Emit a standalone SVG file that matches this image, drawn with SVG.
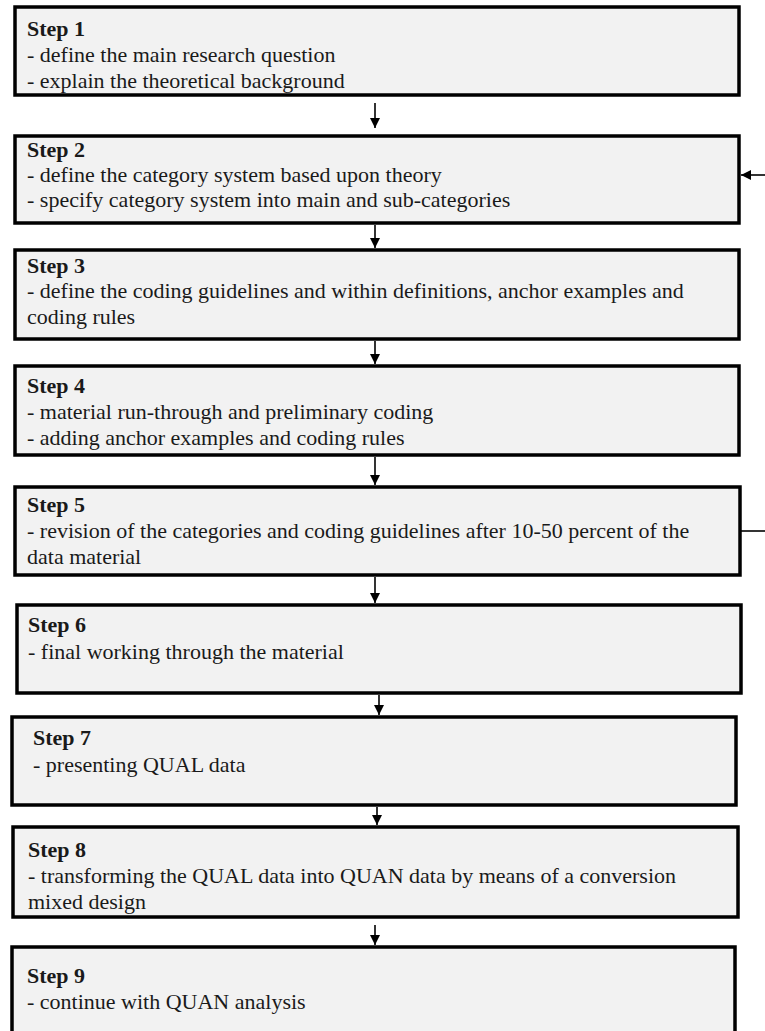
<svg xmlns="http://www.w3.org/2000/svg" width="765" height="1031" viewBox="0 0 765 1031">
  <style>
    .box { fill: #f2f2f2; stroke: #000; stroke-width: 3.5; }
    .t { font-family: "Liberation Serif", "Times New Roman", serif; font-size: 22px; fill: #1a1a1a; }
    .h { font-weight: bold; }
    .c { stroke: #000; stroke-width: 1.6; fill: none; }
  </style>
  <defs>
    <marker id="ah" viewBox="0 0 10 10" refX="10" refY="5" markerWidth="10" markerHeight="10" markerUnits="userSpaceOnUse" orient="auto">
      <path d="M0,0 L10,5 L0,10 z" fill="#000"/>
    </marker>
  </defs>
  <rect width="765" height="1031" fill="#fff"/>

  <g id="step1">
    <rect class="box" x="15" y="7" width="724" height="88"/>
    <text class="t h" x="27" y="36">Step 1</text>
    <text class="t" x="27" y="62">- define the main research question</text>
    <text class="t" x="27" y="88">- explain the theoretical background</text>
  </g>
  <g id="step2">
    <rect class="box" x="15" y="136" width="724" height="87"/>
    <text class="t h" x="27" y="157">Step 2</text>
    <text class="t" x="27" y="182">- define the category system based upon theory</text>
    <text class="t" x="27" y="207">- specify category system into main and sub-categories</text>
  </g>
  <g id="step3">
    <rect class="box" x="15" y="250" width="724" height="89"/>
    <text class="t h" x="27" y="273">Step 3</text>
    <text class="t" x="27" y="298">- define the coding guidelines and within definitions, anchor examples and</text>
    <text class="t" x="27" y="324">coding rules</text>
  </g>
  <g id="step4">
    <rect class="box" x="15" y="366" width="724" height="89"/>
    <text class="t h" x="27" y="393">Step 4</text>
    <text class="t" x="27" y="419">- material run-through and preliminary coding</text>
    <text class="t" x="27" y="445">- adding anchor examples and coding rules</text>
  </g>
  <g id="step5">
    <rect class="box" x="15" y="487" width="725" height="88"/>
    <text class="t h" x="27" y="512">Step 5</text>
    <text class="t" x="27" y="538">- revision of the categories and coding guidelines after 10-50 percent of the</text>
    <text class="t" x="27" y="564">data material</text>
  </g>
  <g id="step6">
    <rect class="box" x="17" y="605" width="724" height="88"/>
    <text class="t h" x="28" y="632">Step 6</text>
    <text class="t" x="28" y="659">- final working through the material</text>
  </g>
  <g id="step7">
    <rect class="box" x="12" y="717" width="724" height="88"/>
    <text class="t h" x="33" y="745">Step 7</text>
    <text class="t" x="33" y="772">- presenting QUAL data</text>
  </g>
  <g id="step8">
    <rect class="box" x="13" y="827" width="725" height="90"/>
    <text class="t h" x="28" y="857">Step 8</text>
    <text class="t" x="28" y="883">- transforming the QUAL data into QUAN data by means of a conversion</text>
    <text class="t" x="28" y="909">mixed design</text>
  </g>
  <g id="step9">
    <rect class="box" x="12" y="947" width="723" height="100"/>
    <text class="t h" x="27" y="983">Step 9</text>
    <text class="t" x="27" y="1009">- continue with QUAN analysis</text>
  </g>

  <g id="connectors">
    <line class="c" x1="375" y1="103" x2="375" y2="128" marker-end="url(#ah)"/>
    <line class="c" x1="375" y1="225" x2="375" y2="248" marker-end="url(#ah)"/>
    <line class="c" x1="375" y1="341" x2="375" y2="364" marker-end="url(#ah)"/>
    <line class="c" x1="375" y1="457" x2="375" y2="485" marker-end="url(#ah)"/>
    <line class="c" x1="375" y1="577" x2="375" y2="603" marker-end="url(#ah)"/>
    <line class="c" x1="379" y1="695" x2="379" y2="715" marker-end="url(#ah)"/>
    <line class="c" x1="377" y1="807" x2="377" y2="825" marker-end="url(#ah)"/>
    <line class="c" x1="375" y1="925" x2="375" y2="945" marker-end="url(#ah)"/>
    <line class="c" x1="765" y1="175" x2="741" y2="175" marker-end="url(#ah)"/>
    <line class="c" x1="741" y1="531" x2="765" y2="531"/>
  </g>
</svg>
